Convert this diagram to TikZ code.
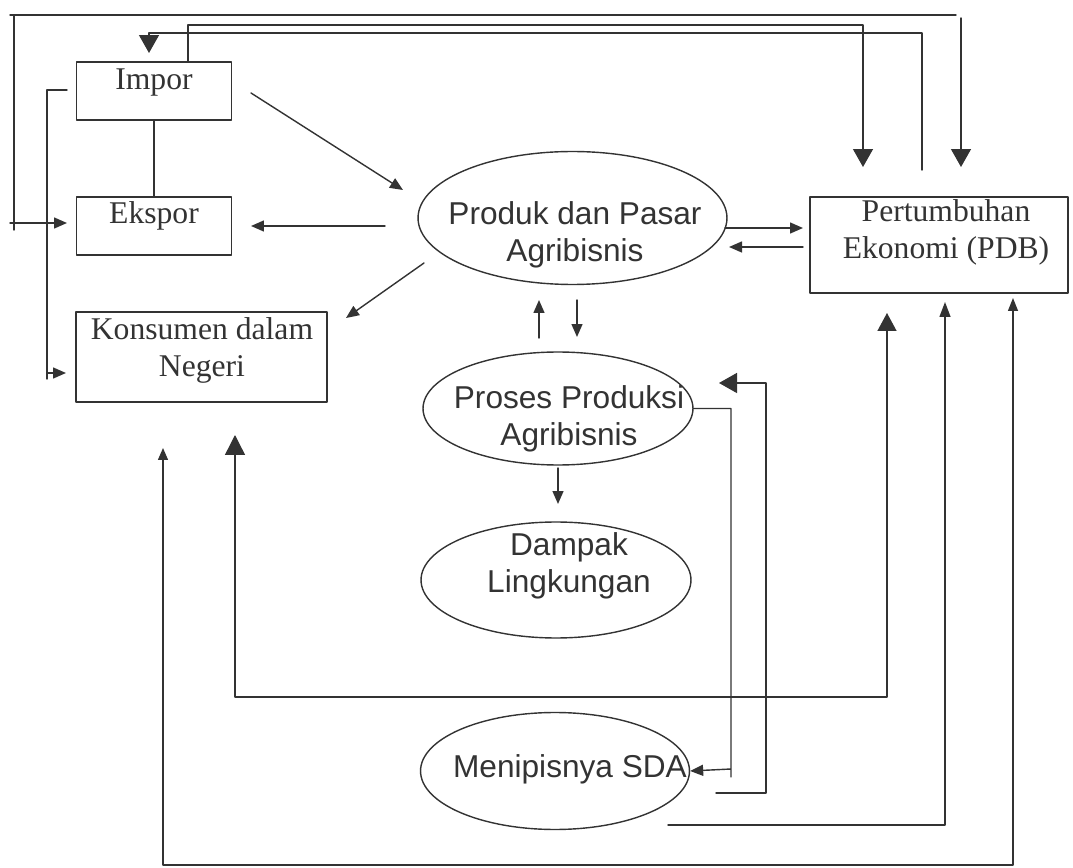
\documentclass[tikz,border=0pt]{standalone}
\usepackage{fontspec}
\setmainfont{Liberation Serif}
\setsansfont{Liberation Sans}
\usetikzlibrary{arrows.meta,shapes.geometric}
\begin{document}
\begin{tikzpicture}[x=0.02cm,y=-0.02cm,line join=round,line cap=round,
	line width=0.8pt,color=black!80,
	box/.style={draw,rectangle,inner sep=0pt},
	oval/.style={draw,ellipse,inner sep=0pt},
	rtxt/.style={align=center,inner sep=0pt,font=\fontsize{18}{21}\selectfont},
	stxt/.style={align=center,inner sep=0pt,font=\sffamily\fontsize{18}{21}\selectfont},
	sarr/.style={-{Triangle[length=0.26cm,width=0.22cm]}},
	marr/.style={-{Triangle[length=0.3cm,width=0.22cm]}},
	barr/.style={-{Triangle[length=0.36cm,width=0.4cm]}}]
	\useasboundingbox (0,0) rectangle (1073,868);
	% kotak
	\node[box,minimum width=3.1cm,minimum height=1.16cm] (impor) at (154,91) {};
	\node[box,minimum width=3.1cm,minimum height=1.16cm] (ekspor) at (154,226) {};
	\node[box,minimum width=5.02cm,minimum height=1.8cm] (konsumen) at (201.5,357) {};
	\node[box,minimum width=5.16cm,minimum height=1.92cm] (pdb) at (939,245) {};
	% elips
	\node[oval,minimum width=6.18cm,minimum height=2.66cm] (produk) at (572.5,218) {};
	\node[oval,minimum width=5.4cm,minimum height=2.26cm] (proses) at (558,408.5) {};
	\node[oval,minimum width=5.4cm,minimum height=2.32cm] (dampak) at (556,580) {};
	\node[oval,minimum width=5.38cm,minimum height=2.34cm] (sda) at (555,771) {};
	% teks
	\node[rtxt,anchor=base] (imporT) at (154,90) {Impor};
	\node[rtxt,anchor=base] (eksporT) at (154,224) {Ekspor};
	\node[rtxt] (konsumenT) at (202,350.5) {Konsumen dalam\\Negeri};
	\node[rtxt] (pdbT) at (946,232.5) {Pertumbuhan\\Ekonomi (PDB)};
	\node[stxt] (produkT) at (575,235) {Produk dan Pasar\\Agribisnis};
	\node[stxt] (prosesT) at (569,418.5) {Proses Produksi\\Agribisnis};
	\node[stxt] (dampakT) at (569,566) {Dampak\\Lingkungan};
	\node[stxt,anchor=base] (sdaT) at (570,777) {Menipisnya SDA};
	% garis atas
	\draw (10,15) -- (956,15);
	\draw[sarr] (14,15) -- (14,230) (10,223) -- (67,223);
	\draw[barr] (961,18) -- (961,167);
	\draw[barr] (impor.north -| 188,0) |- (863,25) -- (863,167);
	\draw[barr] (922,170) |- (149,33) -- (149,53);
	\draw[sarr] (67,90) -| (47,379) (47,373) -- (66,373);
	% panah tengah
	\draw (impor) -- (ekspor);
	\draw[sarr] (251,93) -- (403,190);
	\draw[sarr] (385,226) -- (251,226);
	\draw[sarr] (424,263) -- (346,318);
	\draw[sarr] (725,228) -- (803,228);
	\draw[sarr] (803,247) -- (729,247);
	\draw[sarr] (539,338) -- (539,300);
	\draw[sarr] (577,300) -- (577,337);
	\draw[sarr] (558,468) -- (558,504);
	\draw[sarr] (proses.east) -| (731,777) (731,769) -- (sda.east);
	\draw[barr] (716,793) -| (766,383) -- (719,383);
	% garis bawah
	\draw[marr] (668,825) -| (945,302);
	\draw[{Triangle[length=0.4cm,width=0.4cm]}-{Triangle[length=0.36cm,width=0.38cm]}]
		(235,435) |- (887,697) -- (887,313);
	\draw[{Triangle[length=0.24cm,width=0.2cm]}-{Triangle[length=0.26cm,width=0.2cm]}]
		(163,448) |- (1013,865) -- (1013,298);
\end{tikzpicture}
\end{document}
